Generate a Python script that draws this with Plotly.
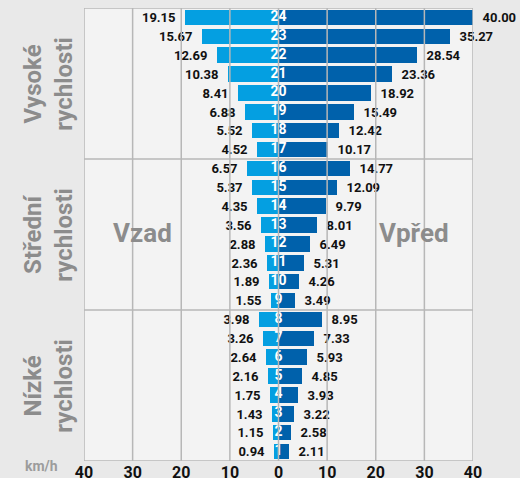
import plotly.graph_objects as go

gears = list(range(1, 25))
backward = [0.94, 1.15, 1.43, 1.75, 2.16, 2.64, 3.26, 3.98,
            1.55, 1.89, 2.36, 2.88, 3.56, 4.35, 5.37, 6.57,
            4.52, 5.52, 6.88, 8.41, 10.38, 12.69, 15.67, 19.15]
forward = [2.11, 2.58, 3.22, 3.93, 4.85, 5.93, 7.33, 8.95,
           3.49, 4.26, 5.31, 6.49, 8.01, 9.79, 12.09, 14.77,
           10.17, 12.42, 15.49, 18.92, 23.36, 28.54, 35.27, 40.00]
group_names = ["Nízké<br>rychlosti", "Střední<br>rychlosti", "Vysoké<br>rychlosti"]
group_bounds = [(1, 8), (9, 16), (17, 24)]
tick_vals = [-40, -30, -20, -10, 0, 10, 20, 30, 40]
tick_text = ["40", "30", "20", "10", "0", "10", "20", "30", "40"]

LIGHT = "#049fe1"
DARK = "#0061ab"
GRID = "#b7b7b7"
LABEL_GRAY = "#8c8c8c"
FONT = "Roboto"
NB = "\u00a0"

fig = go.Figure()
fig.add_trace(go.Bar(
    y=gears, x=[-v for v in backward], orientation="h",
    marker=dict(color=LIGHT, line=dict(width=0)), width=0.82,
    text=[f"{v:.2f}" + NB * 2 for v in backward],
    textposition="outside", textangle=0, constraintext="none",
    textfont=dict(family=FONT, size=13, color="#111111", weight="bold"),
    cliponaxis=False, showlegend=False,
))
fig.add_trace(go.Bar(
    y=gears, x=forward, orientation="h",
    marker=dict(color=DARK, line=dict(width=0)), width=0.82,
    text=[NB * 2 + f"{v:.2f}" for v in forward],
    textposition="outside", textangle=0, constraintext="none",
    textfont=dict(family=FONT, size=13, color="#111111", weight="bold"),
    cliponaxis=False, showlegend=False,
))
fig.add_trace(go.Scatter(
    y=gears, x=[0] * len(gears), mode="text",
    text=[str(g) for g in gears], textposition="middle center",
    textfont=dict(family=FONT, size=14, color="white", weight="bold"),
    showlegend=False, hoverinfo="skip", cliponaxis=False,
))

shapes = []
for tv in tick_vals:
    shapes.append(dict(type="line", xref="x", yref="y", x0=tv, x1=tv, y0=0.5, y1=24.5,
                       line=dict(color=GRID, width=1.5), layer="above"))
for yv in [0.5, 8.5, 16.5, 24.5]:
    shapes.append(dict(type="line", xref="x", yref="y", x0=-40, x1=40, y0=yv, y1=yv,
                       line=dict(color=GRID, width=1.5), layer="above"))

annotations = []
for name, (lo, hi) in zip(group_names, group_bounds):
    annotations.append(dict(
        text=name, xref="paper", yref="y", x=-0.092, y=(lo + hi) / 2,
        textangle=-90, showarrow=False, xanchor="center", yanchor="middle",
        font=dict(family=FONT, size=24, color=LABEL_GRAY, weight="bold"),
    ))
annotations.append(dict(text="Vzad", xref="x", yref="y", x=-27.9, y=12.6, showarrow=False,
                        font=dict(family=FONT, size=26, color=LABEL_GRAY, weight="bold")))
annotations.append(dict(text="Vpřed", xref="x", yref="y", x=27.8, y=12.6, showarrow=False,
                        font=dict(family=FONT, size=26, color=LABEL_GRAY, weight="bold")))
annotations.append(dict(text="km/h", xref="paper", yref="paper", x=-0.109, y=-0.01,
                        xanchor="center", yanchor="middle", showarrow=False,
                        font=dict(family=FONT, size=14, color="#9c9c9c", weight="bold")))

fig.update_layout(
    width=520, height=478,
    margin=dict(l=84, r=47, t=8, b=17, autoexpand=False),
    paper_bgcolor="#e9e9e9", plot_bgcolor="#f3f3f3",
    barmode="overlay", bargap=0,
    shapes=shapes, annotations=annotations,
    xaxis=dict(range=[-40, 40], tickvals=tick_vals, ticktext=tick_text,
               showgrid=False, zeroline=False, showline=False, automargin=False,
               ticks="", ticklen=0,
               tickfont=dict(family=FONT, size=16, color="#111111", weight="bold"),
               fixedrange=True),
    yaxis=dict(range=[0.5, 24.5], showticklabels=False, showgrid=False, automargin=False,
               zeroline=False, showline=False, fixedrange=True),
    font=dict(family=FONT),
)

fig.write_html("out.html",
               config={"displayModeBar": False},
               post_script="document.body.style.margin='0';document.body.style.padding='0';"
                           "document.body.style.overflow='hidden';")
